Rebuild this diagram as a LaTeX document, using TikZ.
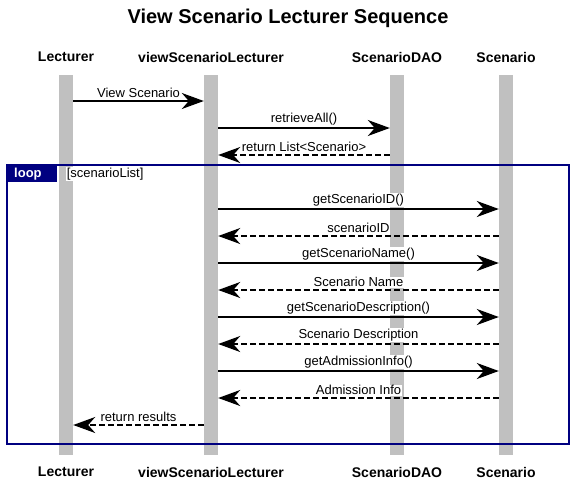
\documentclass[tikz,border=0pt]{standalone}
\usepackage{fontspec}
\setmainfont{Liberation Sans}
\usepackage{tikz}
\usetikzlibrary{arrows.meta, positioning, calc}
\definecolor{loopNavy}{RGB}{0,0,128}
\definecolor{lifeGrey}{RGB}{192,192,192}

\begin{document}
\begin{tikzpicture}[x=1pt, y=-1pt,
  actor/.style={font=\fontsize{14}{16}\selectfont\bfseries, inner sep=0pt},
  lifeline/.style={rectangle, fill=lifeGrey, minimum width=14pt, minimum height=380pt, inner sep=0pt},
  msgLabel/.style={fill=white, inner sep=0.6pt, anchor=south, font=\fontsize{13}{15}\selectfont},
  call/.style={-{Stealth[length=22pt, width=16pt, inset=7pt]}, line width=1.7pt},
  reply/.style={call, dash pattern=on 6pt off 3pt},
  loopTag/.style={rectangle, fill=loopNavy, text=white, font=\fontsize{13}{15}\selectfont\bfseries, text width=36pt, align=left, inner xsep=7pt, inner ysep=0pt, minimum height=17pt}
]
  \useasboundingbox (0,0) rectangle (580,485);

  \node[font=\fontsize{20}{24}\selectfont\bfseries] (title) at (288,18) {View Scenario Lecturer Sequence};

  % lifelines
  \node[lifeline] (lecLine) at (66,265) {};
  \node[lifeline] (vslLine) at (211,265) {};
  \node[lifeline] (daoLine) at (397,265) {};
  \node[lifeline] (scnLine) at (506,265) {};

  \node[actor] (lecTop) at (66,57)  {Lecturer};
  \node[actor] (vslTop) at (211,57) {viewScenarioLecturer};
  \node[actor] (daoTop) at (397,57) {ScenarioDAO};
  \node[actor] (scnTop) at (506,57) {Scenario};

  \node[actor] (lecBot) at (66,472)  {Lecturer};
  \node[actor] (vslBot) at (211,472) {viewScenarioLecturer};
  \node[actor] (daoBot) at (397,472) {ScenarioDAO};
  \node[actor] (scnBot) at (506,472) {Scenario};

  % loop frame
  \draw[loopNavy, line width=2.6pt] (7,165) rectangle (569,444);
  \node[loopTag, anchor=north west] (loopBox) at (7,165) {loop};
  \node[fill=white, inner sep=0.6pt, anchor=west, font=\fontsize{13}{15}\selectfont] (guard) at (66,174) {[scenarioList]};

  % messages
  \foreach \y/\src/\dst/\txt/\kind in {
      101/lecLine.east/vslLine.west/View Scenario/call,
      128/vslLine.east/daoLine.west/retrieveAll()/call,
      155/daoLine.west/vslLine.east/return List<Scenario>/reply,
      209/vslLine.east/scnLine.west/getScenarioID()/call,
      236/scnLine.west/vslLine.east/scenarioID/reply,
      263/vslLine.east/scnLine.west/getScenarioName()/call,
      290/scnLine.west/vslLine.east/Scenario Name/reply,
      317/vslLine.east/scnLine.west/getScenarioDescription()/call,
      344/scnLine.west/vslLine.east/Scenario Description/reply,
      371/vslLine.east/scnLine.west/getAdmissionInfo()/call,
      398/scnLine.west/vslLine.east/Admission Info/reply,
      425/vslLine.west/lecLine.east/return results/reply}
  {
    \path (\src |- 0,\y) -- (\dst |- 0,\y) node[midway, msgLabel, yshift=2.2pt] {\txt};
    \draw[\kind] (\src |- 0,\y) -- (\dst |- 0,\y);
  }
\end{tikzpicture}
\end{document}
